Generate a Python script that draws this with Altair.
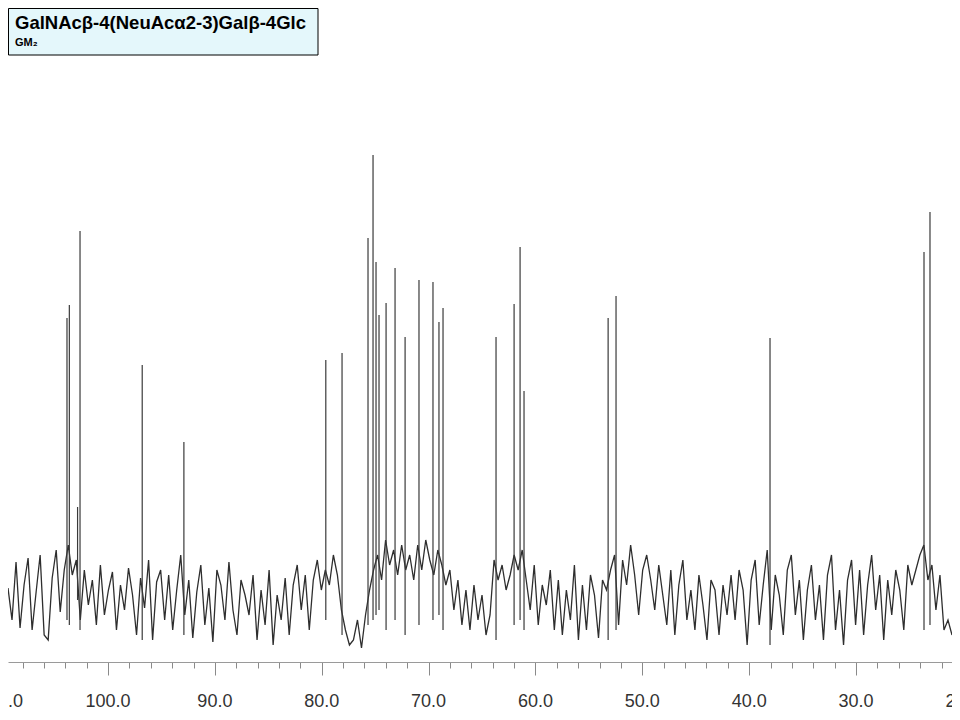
import altair as alt
import numpy as np
import pandas as pd

title_main = "GalNAcβ-4(NeuAcα2-3)Galβ-4Glc"
title_sub = "GM₂"

# visible chemical-shift window (ppm), left to right
ppm_left = 109.36
ppm_right = 21.02

# baseline noise (arbitrary intensity units, left -> right)
noise = [
    12, -20, 38, -28, 15, 42, -30, 8, 45, -35, -40, 22, 50, -12, 30, 55, 25, 40, -20, 30,
    -5, 20, -25, 35, -15, 10, 28, -30, 15, -10, 32, 5, -35, 22, -8, 40, -40, 18, 30, -20,
    25, -30, 10, 45, -15, 20, -38, 8, 35, -25, 12, -42, 30, 15, -20, 38, -10, -35, 20, 5,
    -15, 25, -40, 10, -25, 30, -45, 5, -20, 22, -35, 15, 35, -10, 25, -30, 20, 40, 10, 30,
    15, 45, 25, -10, -30, -45, -40, -20, -48, -15, 10, 30, 45, 20, 60, 35, 50, 25, 55, 30,
    45, 20, 55, 30, 60, 40, 25, 50, 35, 15, 30, -10, 20, -25, 10, -30, 15, -20, 5, -35,
    -15, 40, 20, 35, 10, 25, 45, 30, 50, 20, -10, 35, -25, 15, -5, 30, -30, 20, -35, 10,
    -20, 35, -40, 15, -30, 25, 5, -38, 20, 10, 30, 45, -25, 40, 15, 55, 25, -15, 30, 45,
    20, -10, 35, 5, -25, 30, -35, 15, 40, -20, 10, -30, 25, -5, -40, 20, 10, -35, 15, -15,
    25, -20, 30, 10, -45, 20, 40, -25, 15, 50, -30, 25, 5, -35, 30, 45, -15, 20, -40, 10,
    35, -20, 15, -40, 25, 45, -30, 10, -45, 20, 40, -25, 30, -35, 15, 45, -10, 25, -40, 20,
    -15, 30, 10, -30, 35, 15, 30, 45, 55, 20, 35, -10, 25, -30, -20, -35,
]

# resonances: position (ppm), top intensity, foot intensity
peak_ppm = [103.84, 103.62, 102.85, 102.62, 96.80, 92.90, 79.62, 78.10,
            75.67, 75.20, 74.92, 74.64, 73.98, 73.14, 72.20, 70.90,
            69.59, 69.03, 68.65, 63.69, 62.00, 61.44, 61.07, 53.20,
            52.46, 38.05, 23.64, 23.08]
peak_height = [282, 295, 93, 369, 235, 158, 240, 247,
               362, 445, 338, 285, 297, 332, 263, 320,
               318, 278, 292, 263, 296, 353, 209, 282,
               304, 262, 348, 388]
peak_floor = [-20, -25, 0, -30, -40, -35, -20, -35,
              -25, -20, -15, -10, -30, -20, -35, -25,
              -20, -15, -30, -40, -25, -20, -30, -40,
              -30, -45, -30, -25]

tick_values = list(range(22, 109, 2))
label_ppm = [110, 100, 90, 80, 70, 60, 50, 40, 30, 20]
label_text = ["110.0", "100.0", "90.0", "80.0", "70.0", "60.0", "50.0", "40.0", "30.0", "20.0"]

y_domain = [-62, 592]

noise_df = pd.DataFrame({
    "ppm": np.linspace(ppm_left, ppm_right, len(noise)),
    "intensity": noise,
})
peak_df = pd.DataFrame({"ppm": peak_ppm, "height": peak_height, "floor": peak_floor})
label_df = pd.DataFrame({"ppm": label_ppm, "label": label_text})
one = pd.DataFrame({"k": [0]})

x_scale = alt.Scale(domain=[ppm_left, ppm_right], nice=False, zero=False)
y_scale = alt.Scale(domain=y_domain, nice=False, zero=False)
x_axis = alt.Axis(
    values=tick_values, labels=False, title=None, grid=False,
    domainColor="#9a9a9a", tickColor="#8a8a8a", domainWidth=1, tickWidth=1,
    tickSize={"condition": {"test": "datum.value % 10 === 0", "value": 13}, "value": 6},
)

def X():
    return alt.X("ppm:Q", scale=x_scale, axis=x_axis)

line = alt.Chart(noise_df).mark_line(color="#2e2e2e", strokeWidth=1.3).encode(
    x=X(),
    y=alt.Y("intensity:Q", scale=y_scale, axis=None),
    order="ppm:Q",
)

peaks = alt.Chart(peak_df).mark_rule(color="#3a3a3a", strokeWidth=1.2).encode(
    x=X(),
    y=alt.Y("floor:Q", scale=y_scale, axis=None),
    y2="height:Q",
)

labels = alt.Chart(label_df).mark_text(
    font="Liberation Sans Narrow, Liberation Sans, Arial", fontSize=18,
    color="#333333", baseline="alphabetic", align="center",
).encode(x=X(), y=alt.value(699), text="label:N")

box = alt.Chart(one).mark_rect(fill="#e4f7fb", stroke="#000000", strokeWidth=1).encode(
    x=alt.value(0.5), x2=alt.value(310), y=alt.value(0.5), y2=alt.value(47)
)
t1 = alt.Chart(one).mark_text(
    text=title_main, font="Liberation Sans, Arial", fontSize=18.5, fontWeight="bold",
    color="#000000", align="left", baseline="alphabetic",
).encode(x=alt.value(7), y=alt.value(21))
t2 = alt.Chart(one).mark_text(
    text=title_sub, font="Liberation Sans, Arial", fontSize=11, fontWeight="bold",
    color="#000000", align="left", baseline="alphabetic",
).encode(x=alt.value(7), y=alt.value(38))

chart = alt.layer(line, peaks, labels, box, t1, t2).properties(
    width=944, height=654,
    autosize=alt.AutoSizeParams(type="none"),
    padding={"left": 0, "top": 0, "right": 0, "bottom": 56},
).configure_view(stroke=None)

chart.save("out.html", embed_options={"renderer": "svg", "actions": False})
